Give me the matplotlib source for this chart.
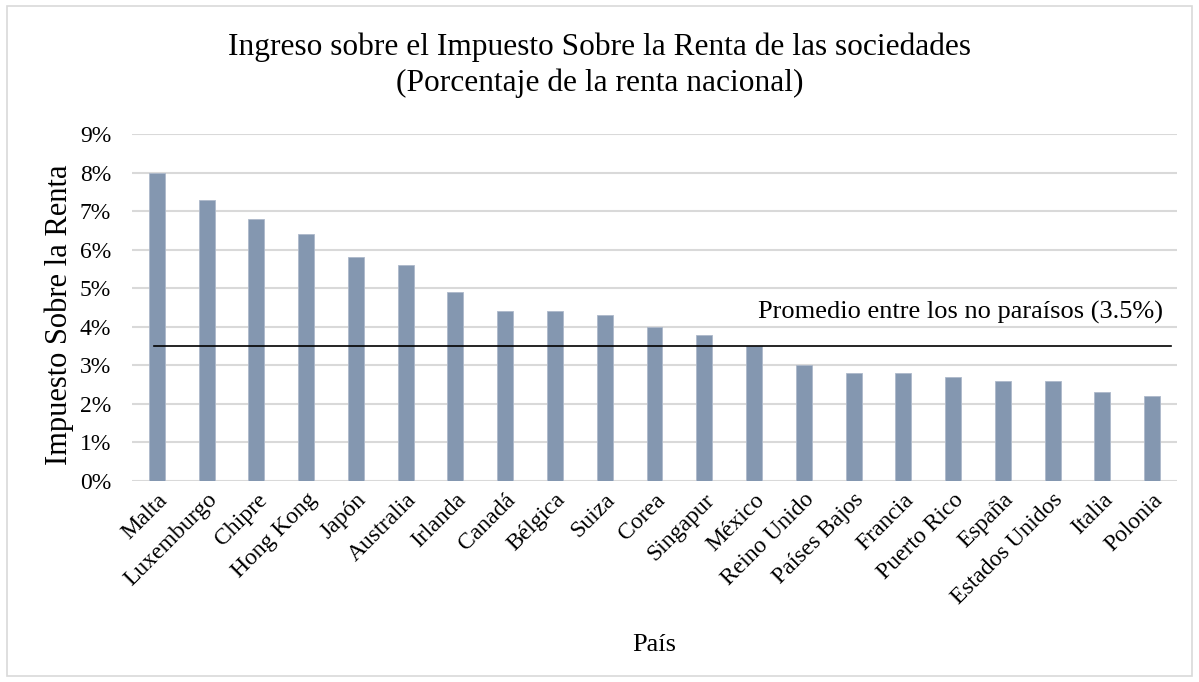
import matplotlib.pyplot as plt
from matplotlib.patches import Rectangle
from matplotlib.ticker import FuncFormatter

paises = ["Malta", "Luxemburgo", "Chipre", "Hong Kong", "Japón", "Australia",
          "Irlanda", "Canadá", "Bélgica", "Suiza", "Corea", "Singapur", "México",
          "Reino Unido", "Países Bajos", "Francia", "Puerto Rico", "España",
          "Estados Unidos", "Italia", "Polonia"]
impuesto = [8.0, 7.3, 6.8, 6.4, 5.8, 5.6, 4.9, 4.4, 4.4, 4.3, 4.0, 3.8, 3.5,
            3.0, 2.8, 2.8, 2.7, 2.6, 2.6, 2.3, 2.2]
promedio = 3.5

plt.rcParams['font.family'] = ['Liberation Serif', 'DejaVu Serif']

fig = plt.figure(figsize=(11.99, 6.82), dpi=100)
ax = fig.add_axes([0.110, 0.2947, 0.8717, 0.5088])

x = list(range(len(paises)))
ax.bar(x, impuesto, width=0.32, color="#8497b0", edgecolor="#adb9ca", linewidth=0.6, zorder=3)

# linea del promedio
ax.plot([-0.06, 20.38], [promedio, promedio], color="black", linewidth=1.2, zorder=4)
ax.text(20.22, promedio + 0.86, "Promedio entre los no paraísos (3.5%)",
        ha="right", va="center", fontsize=19)

ax.set_xlim(-0.5, 20.5)
ax.set_ylim(0, 9)
ax.set_yticks(range(0, 10))
ax.yaxis.set_major_formatter(FuncFormatter(lambda v, p: f"{v:.0f}%"))
ax.grid(axis="y", color="#d9d9d9", linewidth=1.5, zorder=0)
for s in ax.spines.values():
    s.set_visible(False)
ax.tick_params(axis="both", length=0, labelsize=17)
ax.tick_params(axis="y", pad=15)

ax.set_xticks(x)
ax.set_xticklabels(paises, rotation=45, ha="right", rotation_mode="anchor")
ax.tick_params(axis="x", pad=6)

ax.set_ylabel("Impuesto Sobre la Renta", fontsize=22)
ax.yaxis.set_label_coords(-0.055, 0.478)
ax.set_xlabel("País", fontsize=19)
ax.xaxis.set_label_coords(0.5, -0.44)

fig.text(0.5, 0.931, "Ingreso sobre el Impuesto Sobre la Renta de las sociedades",
         ha="center", va="center", fontsize=22.6)
fig.text(0.5, 0.878, "(Porcentaje de la renta nacional)",
         ha="center", va="center", fontsize=22.6)

# marco del grafico
fig.patches.append(Rectangle((7 / 1199, 6 / 682), 1 - 14 / 1199, 1 - 12 / 682,
                             transform=fig.transFigure, fill=False,
                             edgecolor="#d9d9d9", linewidth=1.2))

fig.savefig("out.png", dpi=100)
